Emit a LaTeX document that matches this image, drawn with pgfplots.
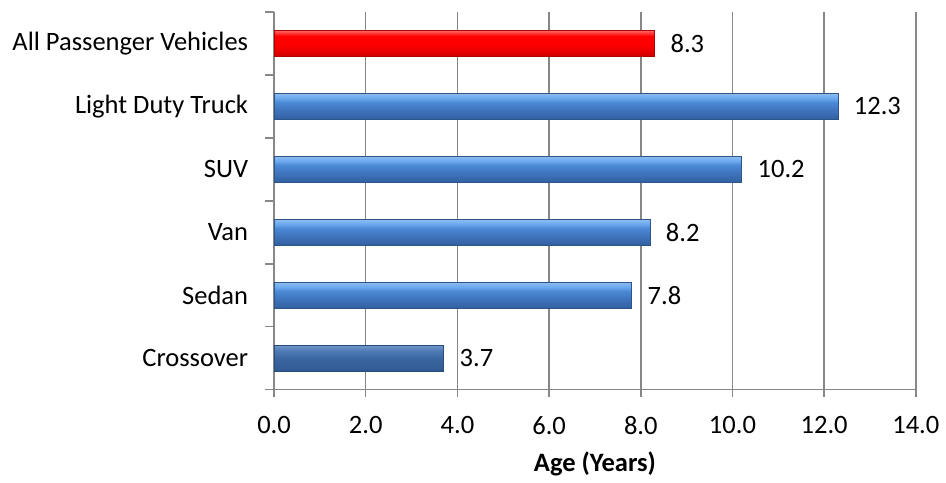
\documentclass[border=0pt]{standalone}
\usepackage{fontspec}
\setmainfont{Carlito}
\usepackage{pgfplots}
\pgfplotsset{compat=1.18}

\definecolor{gridgray}{HTML}{878787}
% blue bar tones (bottom to top)
\definecolor{bbot}{HTML}{2C558C}
\definecolor{blow}{HTML}{3463A4}
\definecolor{bmid}{HTML}{4076C0}
\definecolor{bmid2}{HTML}{4C8AD6}
\definecolor{blight}{HTML}{6AA6EC}
\definecolor{bhigh}{HTML}{80B8F4}
\definecolor{bedge}{HTML}{9CB9DA}
% darker blue for the last bar
\definecolor{dbot}{HTML}{284C7C}
\definecolor{dlow}{HTML}{315B94}
\definecolor{dmid}{HTML}{3A66A1}
\definecolor{dlight}{HTML}{4D7AB6}
\definecolor{dhigh}{HTML}{6A90C6}
% red bar tones
\definecolor{rbot}{HTML}{B00000}
\definecolor{rlow}{HTML}{D80000}
\definecolor{rmid}{HTML}{FF0000}
\definecolor{rlight}{HTML}{FF3A3A}
\definecolor{rhigh}{HTML}{FF7070}

\pgfdeclareverticalshading{bluebar}{100bp}{color(0bp)=(bbot); color(25bp)=(bbot); color(28bp)=(blow); color(45bp)=(bmid); color(58bp)=(bmid2); color(65bp)=(blight); color(72bp)=(bhigh); color(75bp)=(bedge); color(100bp)=(bedge)}
\pgfdeclareverticalshading{darkbar}{100bp}{color(0bp)=(dbot); color(25bp)=(dbot); color(28bp)=(dlow); color(50bp)=(dmid); color(64bp)=(dlight); color(72bp)=(dhigh); color(75bp)=(dhigh); color(100bp)=(dhigh)}
\pgfdeclareverticalshading{redbar}{100bp}{color(0bp)=(rbot); color(25bp)=(rbot); color(29bp)=(rlow); color(48bp)=(rmid); color(64bp)=(rmid); color(70bp)=(rlight); color(75bp)=(rhigh); color(100bp)=(rhigh)}

\pgfplotsset{
  bluestyle/.style={draw=bbot, line width=0.4pt, shade, shading=bluebar},
}

\begin{document}
\begin{tikzpicture}
\begin{axis}[
  scale only axis,
  width=322pt, height=189.5pt,
  xmin=0, xmax=14, ymin=-0.5, ymax=5.5,
  axis x line*=bottom, axis y line*=left,
  axis line style={gridgray, line width=0.75pt, -},
  xtick={0,2,...,14},
  xticklabels={0.0,2.0,4.0,6.0,8.0,10.0,12.0,14.0},
  xmajorgrids,
  major grid style={gridgray, line width=0.75pt},
  x tick style={gridgray, line width=0.75pt},
  tick align=outside,
  major tick length=3.5pt,
  ytick={0,...,5},
  yticklabels={Crossover,Sedan,Van,SUV,Light Duty Truck,All Passenger Vehicles},
  y tick style={draw=none},
  extra y ticks={-0.5,0.5,1.5,2.5,3.5,4.5,5.5},
  extra y tick labels={},
  extra y tick style={
    y tick style={draw=gridgray, line width=0.75pt},
    major tick length=4.5pt, tick align=outside, grid=none},
  tick label style={font=\fontsize{13.3}{16}\selectfont, text=black},
  yticklabel style={xshift=-6pt},
  xticklabel style={yshift=-6.5pt},
  xlabel={\textbf{Age (Years)}},
  xlabel style={font=\fontsize{13.3}{16}\selectfont, yshift=-1.5pt},
  xbar, bar width=13.2pt, bar shift=0pt,
  nodes near coords={\pgfmathprintnumber[fixed,fixed zerofill,precision=1]{\pgfplotspointmeta}},
  nodes near coords style={font=\fontsize{13.3}{16}\selectfont, anchor=west, xshift=4.5pt,
    /pgf/number format/assume math mode=true},
  clip=false,
]
% one plot per bar so that each bar carries its own gradient
\addplot[draw=dbot, line width=0.4pt, shade, shading=darkbar] coordinates {(3.7,0)};
\addplot[bluestyle] coordinates {(7.8,1)};
\addplot[bluestyle] coordinates {(8.2,2)};
\addplot[bluestyle] coordinates {(10.2,3)};
\addplot[bluestyle] coordinates {(12.3,4)};
\addplot[draw=rbot, line width=0.4pt, shade, shading=redbar] coordinates {(8.3,5)};
\end{axis}
\path (current axis.south west) ++(-137.5pt,-44pt) coordinate (bbA);
\path (current axis.north east) ++(13.5pt,6pt) coordinate (bbB);
\path[use as bounding box] (bbA) rectangle (bbB);
\end{tikzpicture}
\end{document}
